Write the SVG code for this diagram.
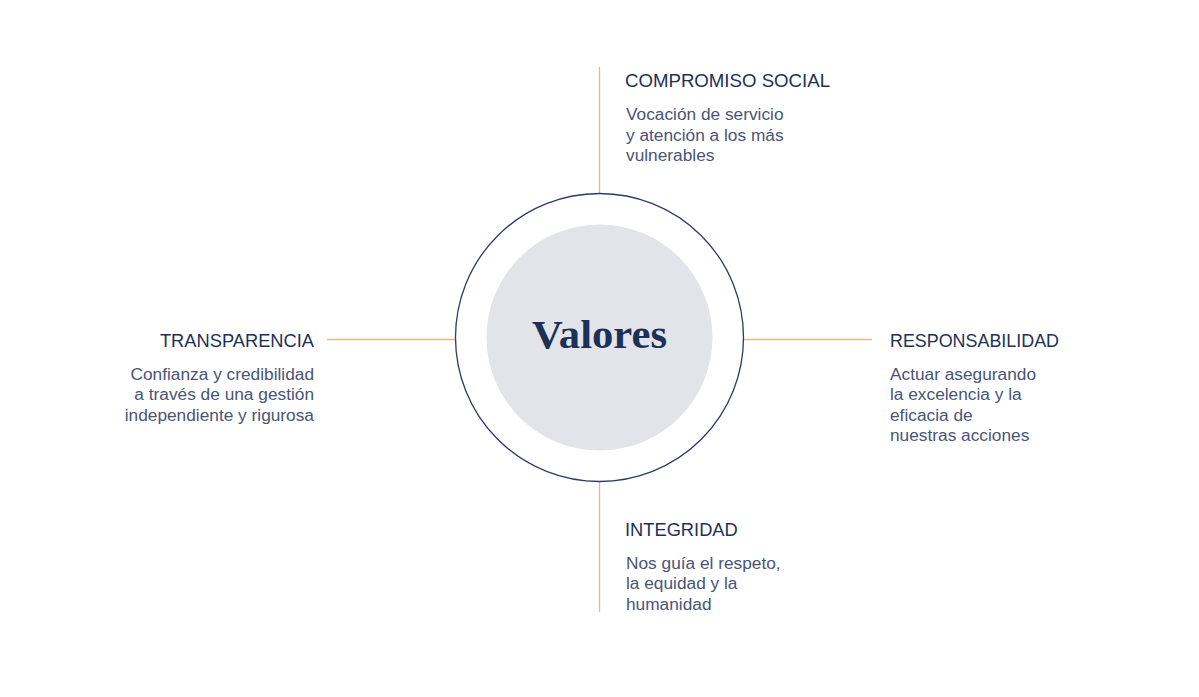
<svg xmlns="http://www.w3.org/2000/svg" width="1199" height="697" viewBox="0 0 1199 697">
<style>
.h{font-family:"Liberation Sans",Arial,sans-serif;font-size:18.3px;fill:#1d3158}
.b{font-family:"Liberation Sans",Arial,sans-serif;font-size:17.3px;fill:#4a5478}
.ln{stroke:#dcbd8c;stroke-width:1.3;fill:none}
</style>
<rect width="1199" height="697" fill="#ffffff"/>
<g id="connectors">
<line class="ln" x1="599.5" y1="67" x2="599.5" y2="193"/>
<line class="ln" x1="599.5" y1="481" x2="599.5" y2="612"/>
<line class="ln" x1="327" y1="339.5" x2="456" y2="339.5"/>
<line class="ln" x1="743" y1="339.5" x2="872" y2="339.5"/>
</g>
<g id="valores">
<circle cx="599.5" cy="337.5" r="144" fill="#ffffff" stroke="#2b3b68" stroke-width="1.3"/>
<circle cx="599.5" cy="337.5" r="113" fill="#e3e4ea"/>
<text x="599.5" y="348" text-anchor="middle" font-family="'Liberation Serif','Times New Roman',serif" font-weight="bold" font-size="40" fill="#1b3158" textLength="135" lengthAdjust="spacingAndGlyphs">Valores</text>
</g>
<g id="compromiso-social">
<text class="h" x="625" y="87" textLength="205" lengthAdjust="spacingAndGlyphs">COMPROMISO SOCIAL</text>
<text class="b" x="626" y="120">Vocación de servicio</text>
<text class="b" x="626" y="141">y atención a los más</text>
<text class="b" x="626" y="161">vulnerables</text>
</g>
<g id="transparencia" text-anchor="end">
<text class="h" x="314" y="347">TRANSPARENCIA</text>
<text class="b" x="314" y="380">Confianza y credibilidad</text>
<text class="b" x="314" y="400">a través de una gestión</text>
<text class="b" x="314" y="421">independiente y rigurosa</text>
</g>
<g id="responsabilidad">
<text class="h" x="890" y="347" textLength="169" lengthAdjust="spacingAndGlyphs">RESPONSABILIDAD</text>
<text class="b" x="890" y="380">Actuar asegurando</text>
<text class="b" x="890" y="400">la excelencia y la</text>
<text class="b" x="890" y="421">eficacia de</text>
<text class="b" x="890" y="441">nuestras acciones</text>
</g>
<g id="integridad">
<text class="h" x="625" y="536">INTEGRIDAD</text>
<text class="b" x="626" y="569">Nos guía el respeto,</text>
<text class="b" x="626" y="589">la equidad y la</text>
<text class="b" x="626" y="610">humanidad</text>
</g>
</svg>
